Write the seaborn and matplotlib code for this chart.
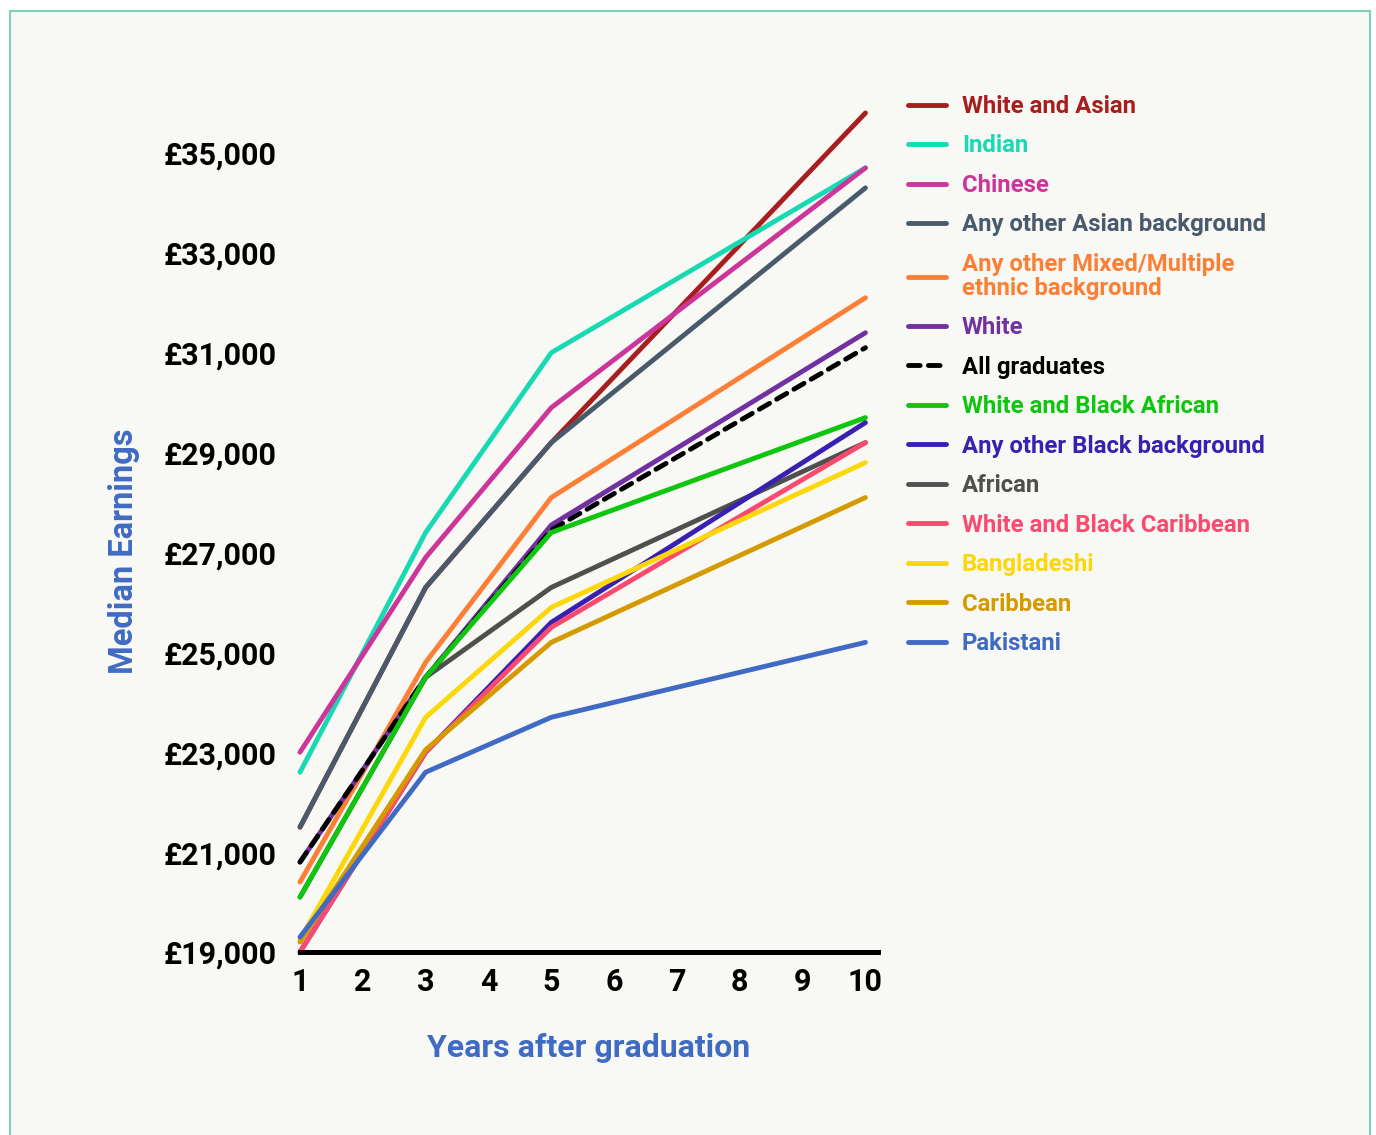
import matplotlib
matplotlib.use("Agg")
import seaborn as sns
from matplotlib import pyplot as plt
from matplotlib.patches import Rectangle

# years after graduation (data points)
years = [1, 3, 5, 10]

# median earnings by ethnicity
white_asian = [21500, 26300, 29200, 35800]
indian = [22600, 27400, 31000, 34700]
chinese = [23000, 26900, 29900, 34700]
other_asian = [21500, 26300, 29200, 34300]
mixed_other = [20400, 24800, 28100, 32100]
white = [20800, 24500, 27550, 31400]
all_grads = [20800, 24500, 27450, 31100]
white_black_african = [20100, 24500, 27400, 29700]
other_black = [19000, 23000, 25600, 29600]
african = [20100, 24500, 26300, 29200]
white_black_caribbean = [19000, 23000, 25500, 29200]
bangladeshi = [19250, 23700, 25900, 28800]
caribbean = [19200, 23050, 25200, 28100]
pakistani = [19300, 22600, 23700, 25200]

series = [
    ("White and Asian", white_asian, "#a81d1d"),
    ("Indian", indian, "#17dab2"),
    ("Chinese", chinese, "#cc3599"),
    ("Any other Asian background", other_asian, "#485a6b"),
    ("Any other Mixed/Multiple\nethnic background", mixed_other, "#fc7f35"),
    ("White", white, "#7131a1"),
    ("All graduates", all_grads, "#000000"),
    ("White and Black African", white_black_african, "#0ec60e"),
    ("Any other Black background", other_black, "#3a20b0"),
    ("African", african, "#4f4f4f"),
    ("White and Black Caribbean", white_black_caribbean, "#fb4a6f"),
    ("Bangladeshi", bangladeshi, "#fdd708"),
    ("Caribbean", caribbean, "#d49a00"),
    ("Pakistani", pakistani, "#3f6bc4"),
]

yticks = list(range(19000, 35001, 2000))
ytick_labels = ["£{:,}".format(v) for v in yticks]
xticks = list(range(1, 11))

sns.set_style("white")
plt.rcParams['font.family'] = ['Roboto', 'DejaVu Sans']
plt.rcParams['font.weight'] = 'bold'

fig = plt.figure(figsize=(13.76, 11.35), dpi=100, facecolor="white")
fig.patches.append(Rectangle((10 / 1376, -0.02), 1360 / 1376, 1.02 - 11 / 1135,
                             transform=fig.transFigure, facecolor="#f8f8f4",
                             edgecolor="#7fcfbf", lw=1.5, zorder=-10))

ax = fig.add_axes([300 / 1376, 1 - 952 / 1135, 578 / 1376, (952 - 103) / 1135])
ax.set_facecolor("none")

for i, (name, vals, col) in enumerate(series):
    z = 1.5 if name == "African" else 2 + i * 0.01
    sns.lineplot(x=years, y=vals, ax=ax, color=col, lw=3.5, label=name,
                 errorbar=None, solid_capstyle='round', clip_on=False, zorder=z)
    if name == "All graduates":
        ax.lines[-1].set_dashes([2.4, 1.7])
        ax.lines[-1].set_dash_capstyle('round')

ax.set_xlim(1, 10.2)
ax.set_ylim(19000, 36000)
ax.set_xticks(xticks)
ax.set_xticklabels([str(x) for x in xticks], fontsize=22, fontweight='bold')
ax.set_yticks(yticks)
ax.set_yticklabels(ytick_labels, fontsize=22, fontweight='bold')
ax.tick_params(axis='both', length=0, colors='black')
ax.tick_params(axis='y', pad=17)
ax.tick_params(axis='x', pad=11)

for s in ['top', 'right', 'left']:
    ax.spines[s].set_visible(False)
ax.spines['bottom'].set_color('black')
ax.spines['bottom'].set_linewidth(3.6)

ax.set_xlabel("Years after graduation", fontsize=23, fontweight='bold',
              color="#3f6bc4", labelpad=26)
ax.set_ylabel("Median Earnings", fontsize=23.5, fontweight='bold',
              color="#3f6bc4")
ax.yaxis.set_label_coords(-0.276, 0.472)

leg = ax.legend(loc='upper left', bbox_to_anchor=(908 / 1376, 1 - 95 / 1135),
                bbox_transform=fig.transFigure, frameon=False, fontsize=17.2,
                handlelength=1.59, handletextpad=0.67, labelspacing=0.69,
                borderpad=0, borderaxespad=0)
for t, h in zip(leg.get_texts(), leg.get_lines()):
    t.set_color(h.get_color())
    t.set_fontweight('bold')
    t.set_linespacing(1.05)

plt.savefig("out.png", dpi=100, facecolor=fig.get_facecolor())
